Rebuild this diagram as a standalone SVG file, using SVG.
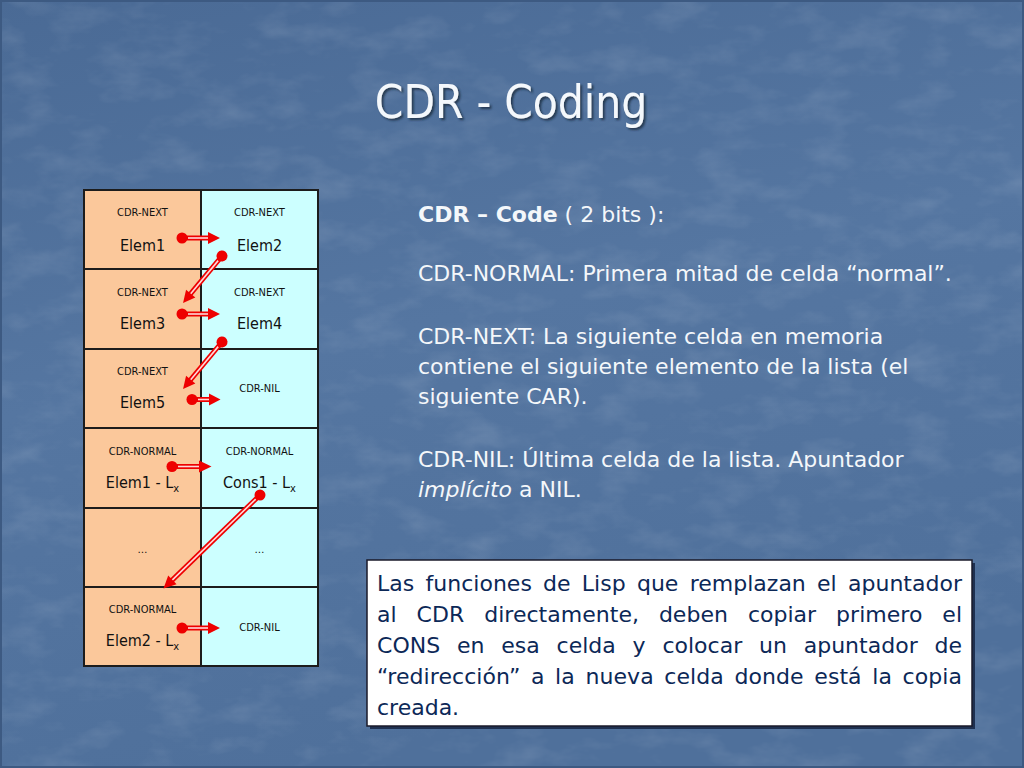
<svg xmlns="http://www.w3.org/2000/svg" width="1024" height="768" viewBox="0 0 1024 768">
<defs>
<linearGradient id="bg" x1="0" y1="0" x2="0.3" y2="1">
<stop offset="0" stop-color="#4a6a95"/>
<stop offset="0.5" stop-color="#5576a1"/>
<stop offset="1" stop-color="#4f709b"/>
</linearGradient>
<filter id="tex" x="0" y="0" width="100%" height="100%">
<feTurbulence type="fractalNoise" baseFrequency="0.02 0.04" numOctaves="4" seed="7" result="n"/>
<feColorMatrix in="n" type="matrix" values="0 0 0 0 1  0 0 0 0 1  0 0 0 0 1  0 0 0 1.0 -0.45"/>
</filter>
<filter id="sh" x="-5%" y="-20%" width="110%" height="140%">
<feDropShadow dx="2" dy="2" stdDeviation="1" flood-color="#1a2a40" flood-opacity="0.8"/>
</filter>
<style>
.lc{fill:#fbc89b;stroke:#1c1c1c;stroke-width:2}
.rc{fill:#ccffff;stroke:#1c1c1c;stroke-width:2}
.sm{font-family:"DejaVu Sans Condensed","DejaVu Sans",sans-serif;font-size:11px;fill:#111;text-anchor:middle}
.md{font-family:"DejaVu Sans Condensed","DejaVu Sans",sans-serif;font-size:16px;fill:#111;text-anchor:middle}
.sub{font-size:11px}
.rt{font-family:"DejaVu Sans",sans-serif;font-size:22px;fill:#f4f7fa}
.bx{font-family:"DejaVu Sans",sans-serif;font-size:22px;fill:#0c2857}
.ttl{font-family:"DejaVu Sans Condensed","DejaVu Sans",sans-serif;font-size:45.5px;fill:#f4f8fc;text-anchor:middle}
.ln{stroke:#ee0000;stroke-width:5;fill:none}
.li{stroke:#ffd8d8;stroke-width:1.6;fill:none}
.hd{fill:#ee0000}
.dt{fill:#ee0000}
</style>
</defs>
<rect x="0" y="0" width="1024" height="768" fill="url(#bg)"/>
<rect x="0" y="0" width="1024" height="768" filter="url(#tex)" opacity="0.22"/>
<rect x="0" y="0" width="1024" height="768" fill="none" stroke="#3d5a82" stroke-width="4"/>

<g id="title"><text class="ttl" x="511" y="118" filter="url(#sh)">CDR - Coding</text></g>

<g id="cells">
<g id="r1"><rect class="lc" x="84" y="190" width="117" height="79"/><rect class="rc" x="201" y="190" width="117" height="79"/>
<text class="sm" x="142.5" y="216">CDR-NEXT</text><text class="md" x="142.5" y="251">Elem1</text>
<text class="sm" x="259.5" y="216">CDR-NEXT</text><text class="md" x="259.5" y="251">Elem2</text></g>
<g id="r2"><rect class="lc" x="84" y="269" width="117" height="80"/><rect class="rc" x="201" y="269" width="117" height="80"/>
<text class="sm" x="142.5" y="296">CDR-NEXT</text><text class="md" x="142.5" y="329">Elem3</text>
<text class="sm" x="259.5" y="296">CDR-NEXT</text><text class="md" x="259.5" y="329">Elem4</text></g>
<g id="r3"><rect class="lc" x="84" y="349" width="117" height="79"/><rect class="rc" x="201" y="349" width="117" height="79"/>
<text class="sm" x="142.5" y="375">CDR-NEXT</text><text class="md" x="142.5" y="408">Elem5</text>
<text class="sm" x="259.5" y="392">CDR-NIL</text></g>
<g id="r4"><rect class="lc" x="84" y="428" width="117" height="80"/><rect class="rc" x="201" y="428" width="117" height="80"/>
<text class="sm" x="142.5" y="455">CDR-NORMAL</text><text class="md" x="142.5" y="488">Elem1 - L<tspan class="sub" dy="4">x</tspan></text>
<text class="sm" x="259.5" y="455">CDR-NORMAL</text><text class="md" x="259.5" y="488">Cons1 - L<tspan class="sub" dy="4">x</tspan></text></g>
<g id="r5"><rect class="lc" x="84" y="508" width="117" height="79"/><rect class="rc" x="201" y="508" width="117" height="79"/>
<text class="sm" x="142.5" y="553">…</text><text class="sm" x="259.5" y="553">…</text></g>
<g id="r6"><rect class="lc" x="84" y="587" width="117" height="79"/><rect class="rc" x="201" y="587" width="117" height="79"/>
<text class="sm" x="142.5" y="613">CDR-NORMAL</text><text class="md" x="142.5" y="646">Elem2 - L<tspan class="sub" dy="4">x</tspan></text>
<text class="sm" x="259.5" y="631">CDR-NIL</text></g>
</g>

<g id="connectors">
<g transform="translate(182,238)"><line class="ln" x1="0" y1="0" x2="27" y2="0"/><line class="li" x1="6" y1="0" x2="27" y2="0"/><polygon class="hd" points="26,-6 38,0 26,6"/><circle class="dt" r="5.5"/></g>
<g transform="translate(222,256) rotate(129.7)"><line class="ln" x1="0" y1="0" x2="50" y2="0"/><line class="li" x1="6" y1="0" x2="50" y2="0"/><polygon class="hd" points="49,-6 61,0 49,6"/><circle class="dt" r="5.5"/></g>
<g transform="translate(182,314)"><line class="ln" x1="0" y1="0" x2="27" y2="0"/><line class="li" x1="6" y1="0" x2="27" y2="0"/><polygon class="hd" points="26,-6 38,0 26,6"/><circle class="dt" r="5.5"/></g>
<g transform="translate(222,342) rotate(129.7)"><line class="ln" x1="0" y1="0" x2="50" y2="0"/><line class="li" x1="6" y1="0" x2="50" y2="0"/><polygon class="hd" points="49,-6 61,0 49,6"/><circle class="dt" r="5.5"/></g>
<g transform="translate(192,399.5)"><line class="ln" x1="0" y1="0" x2="18" y2="0"/><line class="li" x1="6" y1="0" x2="18" y2="0"/><polygon class="hd" points="17,-6 28.5,0 17,6"/><circle class="dt" r="5.5"/></g>
<g transform="translate(172,466.5)"><line class="ln" x1="0" y1="0" x2="28" y2="0"/><line class="li" x1="6" y1="0" x2="28" y2="0"/><polygon class="hd" points="27,-6 39.5,0 27,6"/><circle class="dt" r="5.5"/></g>
<g transform="translate(260,495) rotate(135.9)"><line class="ln" x1="0" y1="0" x2="123" y2="0"/><line class="li" x1="6" y1="0" x2="123" y2="0"/><polygon class="hd" points="122,-6 134.4,0 122,6"/><circle class="dt" r="5.5"/></g>
<g transform="translate(182,628)"><line class="ln" x1="0" y1="0" x2="27" y2="0"/><line class="li" x1="6" y1="0" x2="27" y2="0"/><polygon class="hd" points="26,-6 38,0 26,6"/><circle class="dt" r="5.5"/></g>
</g>

<g id="legend">
<text class="rt" x="418" y="222"><tspan font-weight="bold">CDR – Code</tspan> ( 2 bits ):</text>
<text class="rt" x="418" y="281">CDR-NORMAL: Primera mitad de celda “normal”.</text>
<text class="rt" x="418" y="344">CDR-NEXT: La siguiente celda en memoria</text>
<text class="rt" x="418" y="374">contiene el siguiente elemento de la lista (el</text>
<text class="rt" x="418" y="404">siguiente CAR).</text>
<text class="rt" x="418" y="467">CDR-NIL: Última celda de la lista. Apuntador</text>
<text class="rt" x="418" y="497"><tspan font-style="italic">implícito</tspan> a NIL.</text>
</g>

<g id="note">
<rect x="370" y="563" width="605" height="166" fill="#1e3050"/>
<rect x="367" y="560" width="605" height="166" fill="#ffffff" stroke="#1a1a2a" stroke-width="1.5"/>
<text class="bx" x="377" y="591" word-spacing="4.2" textLength="585" lengthAdjust="spacing">Las funciones de Lisp que remplazan el apuntador</text>
<text class="bx" x="377" y="622" word-spacing="12.9" textLength="585" lengthAdjust="spacing">al CDR directamente, deben copiar primero el</text>
<text class="bx" x="377" y="653" word-spacing="9.8" textLength="585" lengthAdjust="spacing">CONS en esa celda y colocar un apuntador de</text>
<text class="bx" x="377" y="684" word-spacing="3.5" textLength="585" lengthAdjust="spacing">“redirección” a la nueva celda donde está la copia</text>
<text class="bx" x="377" y="715">creada.</text>
</g>
</svg>
